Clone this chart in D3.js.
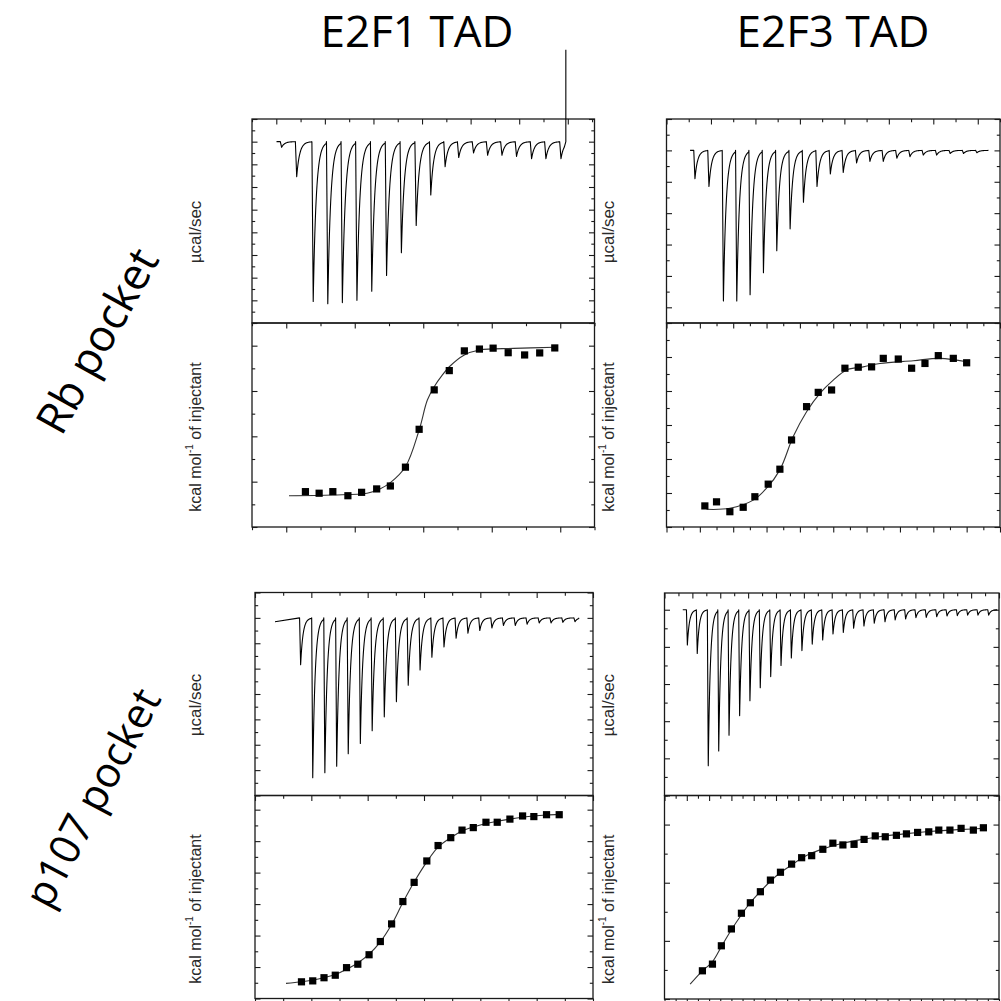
<!DOCTYPE html>
<html>
<head>
<meta charset="utf-8">
<script src="https://cdn.jsdelivr.net/npm/d3@7"></script>
<style>
  body { margin: 0; background: #fff; }
  svg { display: block; }
</style>
</head>
<body>
<script>
// titles
var colTitles = ["E2F1 TAD", "E2F3 TAD"];
var rowTitles = ["Rb pocket", "p107 pocket"];
var powerLabel = "\u00b5cal/sec";

// ---- Rb pocket / E2F1 TAD ----
var rbE2f1Time  = [2.2, 8.4, 15.2, 21.2, 27.2, 33.2, 39.3, 45.4, 51.5, 57.6, 63.6, 69.5, 75.1, 81.2, 87.0, 92.9, 98.9, 105.1, 111.0, 117.2];
var rbE2f1Power = [-0.05, -0.31, -1.41, -1.43, -1.42, -1.40, -1.32, -1.18, -0.98, -0.74, -0.47, -0.22, -0.14, -0.10, -0.12, -0.12, -0.13, -0.15, -0.15, -0.15];
var rbE2f1Ratio = [0.14, 0.24, 0.34, 0.45, 0.55, 0.66, 0.76, 0.87, 0.97, 1.08, 1.19, 1.30, 1.41, 1.51, 1.62, 1.74, 1.85, 1.96];
var rbE2f1Heat  = [-6.44, -6.51, -6.44, -6.62, -6.47, -6.32, -6.19, -5.36, -3.69, -1.95, -1.10, -0.23, -0.15, -0.11, -0.31, -0.41, -0.32, -0.10];
var rbE2f1FitRatio = [0.02, 0.34, 0.59, 0.68, 0.76, 0.87, 0.97, 1.03, 1.08, 1.14, 1.19, 1.30, 1.41, 1.66, 1.96];
var rbE2f1FitHeat  = [-6.62, -6.59, -6.51, -6.33, -6.04, -5.34, -3.72, -2.40, -1.81, -1.29, -0.93, -0.41, -0.19, -0.12, -0.07];

// ---- Rb pocket / E2F3 TAD ----
var rbE2f3Time  = [12.8, 19.1, 25.6, 31.6, 37.6, 43.6, 49.6, 55.6, 61.6, 67.7, 73.7, 79.5, 85.5, 91.5, 97.5, 103.6, 109.5, 115.5, 121.5, 127.6, 133.6, 139.6];
var rbE2f3Power = [-0.18, -0.23, -0.96, -0.96, -0.92, -0.78, -0.64, -0.50, -0.33, -0.23, -0.15, -0.14, -0.08, -0.07, -0.07, -0.05, -0.04, -0.03, -0.03, -0.02, -0.02, -0.015];
var rbE2f3Ratio = [0.23, 0.30, 0.38, 0.46, 0.53, 0.61, 0.68, 0.75, 0.84, 0.91, 0.99, 1.07, 1.15, 1.23, 1.30, 1.39, 1.47, 1.55, 1.63, 1.72, 1.80];
var rbE2f3Heat  = [-4.38, -4.26, -4.55, -4.42, -4.11, -3.74, -3.30, -2.44, -1.46, -1.04, -0.97, -0.33, -0.30, -0.29, -0.04, -0.06, -0.33, -0.19, 0.04, -0.04, -0.17];
var rbE2f3FitRatio = [0.24, 0.38, 0.52, 0.60, 0.68, 0.76, 0.84, 0.92, 1.00, 1.08, 1.18, 1.28, 1.48, 1.64, 1.80];
var rbE2f3FitHeat  = [-4.48, -4.45, -4.21, -3.86, -3.32, -2.34, -1.61, -1.07, -0.68, -0.38, -0.29, -0.19, -0.11, -0.04, -0.14];

// ---- p107 pocket / E2F1 TAD ----
var p107E2f1Time  = [16.2, 20.5, 24.8, 29.0, 33.1, 37.4, 41.6, 45.9, 50.2, 54.4, 58.6, 62.8, 67.1, 71.4, 75.6, 79.8, 84.1, 88.2, 92.4, 96.6, 100.9, 105.1, 109.3, 113.6];
var p107E2f1Power = [-0.37, -1.26, -1.22, -1.17, -1.07, -0.99, -0.89, -0.78, -0.66, -0.53, -0.41, -0.31, -0.23, -0.16, -0.12, -0.10, -0.08, -0.06, -0.06, -0.05, -0.04, -0.04, -0.035, -0.03];
var p107E2f1Ratio = [0.33, 0.41, 0.49, 0.57, 0.65, 0.73, 0.81, 0.89, 0.97, 1.05, 1.13, 1.22, 1.30, 1.39, 1.47, 1.55, 1.64, 1.72, 1.81, 1.90, 1.98, 2.07, 2.16];
var p107E2f1Heat  = [-5.47, -5.44, -5.34, -5.26, -5.02, -4.91, -4.61, -4.19, -3.63, -2.92, -2.31, -1.63, -1.14, -0.89, -0.65, -0.57, -0.40, -0.40, -0.30, -0.20, -0.22, -0.16, -0.16];
var p107E2f1FitRatio = [0.22, 0.33, 0.45, 0.57, 0.65, 0.73, 0.81, 0.89, 0.97, 1.05, 1.13, 1.22, 1.30, 1.39, 1.47, 1.55, 1.64, 1.72, 1.81, 1.90, 1.98, 2.07, 2.16];
var p107E2f1FitHeat  = [-5.52, -5.47, -5.38, -5.24, -5.07, -4.87, -4.59, -4.20, -3.65, -2.95, -2.30, -1.66, -1.19, -0.89, -0.68, -0.55, -0.44, -0.37, -0.30, -0.24, -0.20, -0.17, -0.15];

// ---- p107 pocket / E2F3 TAD ----
var p107E2f3Time  = [16.4, 23.5, 31.4, 38.9, 46.3, 53.9, 61.3, 68.7, 76.2, 83.6, 91.0, 98.6, 106.0, 113.5, 120.9, 128.3, 135.7, 143.1, 150.5, 158.2, 165.5, 173.0, 180.4, 187.8, 195.3, 202.7, 210.1, 217.5, 224.9, 232.6];
var p107E2f3Power = [-0.19, -0.235, -0.84, -0.76, -0.675, -0.57, -0.49, -0.42, -0.36, -0.30, -0.26, -0.22, -0.185, -0.163, -0.131, -0.122, -0.10, -0.088, -0.073, -0.065, -0.055, -0.05, -0.043, -0.041, -0.038, -0.034, -0.032, -0.029, -0.029, -0.029];
var p107E2f3Ratio = [0.34, 0.43, 0.51, 0.60, 0.69, 0.77, 0.86, 0.95, 1.04, 1.14, 1.23, 1.32, 1.42, 1.51, 1.60, 1.70, 1.79, 1.89, 1.98, 2.08, 2.17, 2.27, 2.37, 2.46, 2.56, 2.66, 2.77, 2.86];
var p107E2f3Heat  = [-7.03, -6.80, -6.17, -5.59, -5.05, -4.69, -4.31, -3.91, -3.64, -3.36, -3.14, -3.07, -2.85, -2.64, -2.70, -2.68, -2.51, -2.39, -2.42, -2.37, -2.32, -2.27, -2.25, -2.19, -2.19, -2.13, -2.19, -2.11];
var p107E2f3FitRatio = [0.23, 0.34, 0.43, 0.51, 0.60, 0.69, 0.77, 0.86, 0.95, 1.04, 1.14, 1.23, 1.32, 1.42, 1.51, 1.60, 1.70, 1.79, 1.89, 1.98, 2.17, 2.37, 2.56, 2.76, 2.86];
var p107E2f3FitHeat  = [-7.49, -7.03, -6.72, -6.20, -5.62, -5.10, -4.68, -4.30, -3.95, -3.65, -3.39, -3.16, -2.98, -2.84, -2.73, -2.64, -2.56, -2.50, -2.44, -2.39, -2.31, -2.24, -2.19, -2.15, -2.13];

// panel layout (pixels) and axis ranges
var panels = [
  { x0: 252, x1: 594.5, yTop: 119, yMid: 323, yBot: 527, labelX: 195,
    tDom: [-10, 131], tStep: 10, tMajor: 20, pDom: [-1.6, 0.2], pStep: 0.1, pMajor: 0.2,
    rDom: [-0.25, 2.25], rStep: 0.25, rMajor: 0.5, hDom: [-8, 1], hStep: 1, hMajor: 2,
    time: rbE2f1Time, power: rbE2f1Power, start: [0.1, 0], end: 119.2, spike: 0.81,
    ratio: rbE2f1Ratio, heat: rbE2f1Heat, fitRatio: rbE2f1FitRatio, fitHeat: rbE2f1FitHeat },
  { x0: 666.5, x1: 1000, yTop: 119, yMid: 323, yBot: 527, labelX: 608,
    tDom: [0, 150], tStep: 10, tMajor: 20, pDom: [-1.1, 0.2], pStep: 0.1, pMajor: 0.2,
    rDom: [0, 2.0], rStep: 0.1, rMajor: 0.2, hDom: [-5, 1], hStep: 0.5, hMajor: 1,
    time: rbE2f3Time, power: rbE2f3Power, start: [10.6, 0], end: 144.8, spike: null,
    ratio: rbE2f3Ratio, heat: rbE2f3Heat, fitRatio: rbE2f3FitRatio, fitHeat: rbE2f3FitHeat },
  { x0: 255, x1: 593, yTop: 592.5, yMid: 795.5, yBot: 998.5, labelX: 195,
    tDom: [0, 120], tStep: 10, tMajor: 20, pDom: [-1.4, 0.2], pStep: 0.1, pMajor: 0.2,
    rDom: [0, 2.4], rStep: 0.2, rMajor: 0.4, hDom: [-6, 0.45], hStep: 0.5, hMajor: 1,
    time: p107E2f1Time, power: p107E2f1Power, start: [7.1, -0.03], end: 115.1, spike: null,
    ratio: p107E2f1Ratio, heat: p107E2f1Heat, fitRatio: p107E2f1FitRatio, fitHeat: p107E2f1FitHeat },
  { x0: 664.5, x1: 999, yTop: 593, yMid: 795.5, yBot: 999, labelX: 608,
    tDom: [0, 240], tStep: 10, tMajor: 20, pDom: [-1.0, 0.09], pStep: 0.1, pMajor: 0.2,
    rDom: [0, 3.0], rStep: 0.1, rMajor: 0.2, hDom: [-8, -1], hStep: 1, hMajor: 2,
    time: p107E2f3Time, power: p107E2f3Power, start: [13.1, 0], end: 238.7, spike: null,
    ratio: p107E2f3Ratio, heat: p107E2f3Heat, fitRatio: p107E2f3FitRatio, fitHeat: p107E2f3FitHeat }
];

var ink = "#1a1a1a";

var svg = d3.select("body").append("svg")
    .attr("width", 1001)
    .attr("height", 1001);

// column titles
svg.selectAll("text.coltitle")
    .data(colTitles)
  .enter().append("text")
    .attr("class", "coltitle")
    .attr("x", function(d, i) { return [417, 833][i]; })
    .attr("y", 47)
    .attr("text-anchor", "middle")
    .style("font-family", "'Open Sans', sans-serif")
    .style("font-size", "44px")
    .style("fill", "#000")
    .text(function(d) { return d; });

// row titles (rotated)
var rowPos = [[96, 340, -61, 44], [91, 797, -62, 42]];
svg.selectAll("text.rowtitle")
    .data(rowTitles)
  .enter().append("text")
    .attr("class", "rowtitle")
    .attr("transform", function(d, i) { return "translate(" + rowPos[i][0] + "," + rowPos[i][1] + ") rotate(" + rowPos[i][2] + ")"; })
    .attr("text-anchor", "middle")
    .attr("dominant-baseline", "central")
    .style("font-family", "'Open Sans', sans-serif")
    .style("font-size", function(d, i) { return rowPos[i][3] + "px"; })
    .style("fill", "#000")
    .text(function(d) { return d; });

function tickVals(dom, step) {
  var lo = Math.ceil(dom[0] / step - 1e-9), hi = Math.floor(dom[1] / step + 1e-9);
  return d3.range(lo, hi + 1).map(function(k) { return +(k * step).toFixed(6); });
}
function isMajor(v, m) { return Math.abs(v / m - Math.round(v / m)) < 1e-6; }

// draws one side's ticks with a d3 axis, majors and minors separately
function sideTicks(g, axisFn, scale, dom, step, major, tr, sign) {
  var all = tickVals(dom, step);
  [[all.filter(function(v) { return isMajor(v, major); }), 5.5],
   [all.filter(function(v) { return !isMajor(v, major); }), 3.2]].forEach(function(set) {
    g.append("g")
      .attr("transform", tr)
      .call(axisFn(scale).tickValues(set[0]).tickSize(sign * set[1]).tickFormat(""))
      .call(function(a) { a.select(".domain").remove(); })
      .selectAll("line").attr("stroke", ink).attr("stroke-width", 1.1);
  });
}

function tracePoints(p) {
  var dt = d3.median(d3.pairs(p.time, function(a, b) { return b - a; }));
  var pts = [p.start];
  p.time.forEach(function(t, i) {
    var next = i < p.time.length - 1 ? p.time[i + 1] : p.end;
    var drop = 0.09 * dt, tau = 0.2 * dt;
    pts.push([t - drop, 0]);
    pts.push([t, p.power[i]]);
    for (var s = t + 0.02 * dt; s < next - drop; s += 0.03 * dt) {
      pts.push([s, p.power[i] * Math.exp(-(s - t) / tau)]);
    }
  });
  pts.push([p.end, 0]);
  if (p.spike) pts.push([p.end, p.spike]);
  return pts;
}

function drawPanel(p) {
  var g = svg.append("g");
  var x = d3.scaleLinear().domain(p.tDom).range([p.x0, p.x1]);
  var y = d3.scaleLinear().domain(p.pDom).range([p.yMid, p.yTop]);
  var xr = d3.scaleLinear().domain(p.rDom).range([p.x0, p.x1]);
  var yh = d3.scaleLinear().domain(p.hDom).range([p.yBot, p.yMid]);

  // frames
  g.append("rect").attr("x", p.x0).attr("y", p.yTop).attr("width", p.x1 - p.x0).attr("height", p.yMid - p.yTop)
    .attr("fill", "none").attr("stroke", ink).attr("stroke-width", 1.3);
  g.append("rect").attr("x", p.x0).attr("y", p.yMid).attr("width", p.x1 - p.x0).attr("height", p.yBot - p.yMid)
    .attr("fill", "none").attr("stroke", ink).attr("stroke-width", 1.3);

  // upper panel ticks (inward)
  sideTicks(g, d3.axisTop, x, p.tDom, p.tStep, p.tMajor, "translate(0," + p.yTop + ")", -1);
  sideTicks(g, d3.axisLeft, y, p.pDom, p.pStep, p.pMajor, "translate(" + p.x0 + ",0)", -1);
  sideTicks(g, d3.axisRight, y, p.pDom, p.pStep, p.pMajor, "translate(" + p.x1 + ",0)", -1);
  // lower panel ticks
  sideTicks(g, d3.axisTop, xr, p.rDom, p.rStep, p.rMajor, "translate(0," + p.yMid + ")", -1);
  sideTicks(g, d3.axisBottom, xr, p.rDom, p.rStep, p.rMajor, "translate(0," + p.yBot + ")", 1);
  sideTicks(g, d3.axisLeft, yh, p.hDom, p.hStep, p.hMajor, "translate(" + p.x0 + ",0)", -1);
  sideTicks(g, d3.axisRight, yh, p.hDom, p.hStep, p.hMajor, "translate(" + p.x1 + ",0)", -1);

  // raw thermogram
  g.append("path")
    .datum(tracePoints(p))
    .attr("fill", "none")
    .attr("stroke", "#000")
    .attr("stroke-width", 1.1)
    .attr("stroke-linejoin", "round")
    .attr("d", d3.line().x(function(d) { return x(d[0]); }).y(function(d) { return y(d[1]); }));

  // fit line
  g.append("path")
    .datum(d3.zip(p.fitRatio, p.fitHeat))
    .attr("fill", "none")
    .attr("stroke", "#333")
    .attr("stroke-width", 1.1)
    .attr("d", d3.line().curve(d3.curveCatmullRom).x(function(d) { return xr(d[0]); }).y(function(d) { return yh(d[1]); }));

  // integrated heats
  g.selectAll("rect.pt")
    .data(d3.zip(p.ratio, p.heat))
  .enter().append("rect")
    .attr("class", "pt")
    .attr("x", function(d) { return xr(d[0]) - 3.6; })
    .attr("y", function(d) { return yh(d[1]) - 3.6; })
    .attr("width", 7.2)
    .attr("height", 7.2)
    .attr("fill", "#000");

  // axis titles
  g.append("text")
    .attr("transform", "translate(" + p.labelX + "," + ((p.yTop + p.yMid) / 2 + 11) + ") rotate(-90)")
    .attr("text-anchor", "middle")
    .attr("dominant-baseline", "central")
    .style("font-family", "'Liberation Sans', Arial, sans-serif")
    .style("font-size", "17px")
    .style("fill", "#2a2a2a")
    .text(powerLabel);

  var kt = g.append("text")
    .attr("transform", "translate(" + p.labelX + "," + ((p.yMid + p.yBot) / 2 + 12) + ") rotate(-90)")
    .attr("text-anchor", "middle")
    .attr("dominant-baseline", "central")
    .style("font-family", "'Liberation Sans', Arial, sans-serif")
    .style("font-size", "16px")
    .style("fill", "#2a2a2a");
  kt.append("tspan").text("kcal mol");
  kt.append("tspan").attr("dy", -6).style("font-size", "10px").text("-1");
  kt.append("tspan").attr("dy", 6).text(" of injectant");
}

panels.forEach(drawPanel);
</script>
</body>
</html>
